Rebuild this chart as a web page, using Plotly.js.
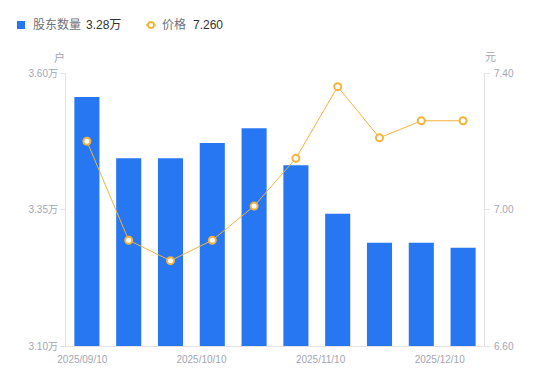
<!DOCTYPE html>
<html>
<head>
<meta charset="utf-8">
<script src="https://cdn.plot.ly/plotly-3.0.1.min.js"></script>
<style>
html,body{margin:0;padding:0;background:#fff;}
#chart{width:550px;height:381px;}
</style>
</head>
<body>
<div id="chart"></div>
<script>
// ---- data ----
var dates = ['2025/09/10','2025/09/20','2025/09/30','2025/10/10','2025/10/20','2025/10/31','2025/11/10','2025/11/20','2025/11/30','2025/12/10'];
var holders = [3.556, 3.444, 3.444, 3.472, 3.499, 3.431, 3.342, 3.289, 3.289, 3.28]; // 万户
var prices = [7.20, 6.91, 6.85, 6.91, 7.01, 7.15, 7.36, 7.21, 7.26, 7.26];         // 元
var xTickLabels = ['2025/09/10','2025/10/10','2025/11/10','2025/12/10'];
var yLeftTicks = [3.10, 3.35, 3.60];
var yRightTicks = [6.60, 7.00, 7.40];
var legendNames = ['股东数量', '价格'];

// ---- layout constants ----
var W = 550, H = 381, ML = 66, MR = 66, MT = 73, MB = 35;
var PW = W - ML - MR, PH = H - MT - MB;
function px(x){ return (x - ML) / PW; }
function py(y){ return (H - MB - y) / PH; }

var blue = '#2777f3', orange = '#f6b33b', gray = '#a3a6b4', axisGray = '#e3e3e6';
var idx = dates.map(function(_, i){ return i; });

var bars = {
  type: 'bar', x: idx, y: holders, width: 0.6,
  marker: {color: blue, line: {width: 0}},
  hoverinfo: 'skip', showlegend: false, yaxis: 'y'
};
var line = {
  type: 'scatter', mode: 'lines+markers', x: idx, y: prices, yaxis: 'y2',
  line: {color: orange, width: 1},
  marker: {size: 7, color: '#ffffff', line: {color: orange, width: 2}},
  hoverinfo: 'skip', showlegend: false, cliponaxis: false
};

var tickStart = -0.11, tickStep = 2.85;
var xTickVals = xTickLabels.map(function(_, i){ return tickStart + i * tickStep; });

var lastHolder = holders[holders.length - 1].toFixed(2) + '万';
var lastPrice = prices[prices.length - 1].toFixed(3);

var fnt = 'Liberation Sans, Arial, Noto Sans CJK SC, sans-serif';

var layout = {
  width: W, height: H,
  margin: {l: ML, r: MR, t: MT, b: MB, pad: 0},
  paper_bgcolor: '#fff', plot_bgcolor: '#fff',
  font: {family: fnt, size: 10, color: gray},
  bargap: 0.4,
  xaxis: {
    type: 'linear', range: [-0.5, 9.5], fixedrange: true,
    showgrid: false, zeroline: false,
    showline: true, linecolor: axisGray, linewidth: 1,
    ticks: '', tickvals: xTickVals, ticktext: xTickLabels,
    ticklabelstandoff: 4,
    tickfont: {size: 10, color: gray}
  },
  yaxis: {
    range: [yLeftTicks[0], yLeftTicks[yLeftTicks.length - 1]],
    tickvals: yLeftTicks,
    ticktext: yLeftTicks.map(function(v){ return v.toFixed(2) + '万'; }),
    showgrid: false, zeroline: false,
    showline: true, linecolor: axisGray, linewidth: 1,
    ticks: 'outside', ticklen: 5, tickcolor: axisGray, tickwidth: 1,
    tickfont: {size: 10, color: gray}
  },
  yaxis2: {
    overlaying: 'y', side: 'right',
    range: [yRightTicks[0], yRightTicks[yRightTicks.length - 1]],
    tickvals: yRightTicks,
    ticktext: yRightTicks.map(function(v){ return v.toFixed(2); }),
    showgrid: false, zeroline: false,
    showline: true, linecolor: axisGray, linewidth: 1,
    ticks: 'outside', ticklen: 5, tickcolor: axisGray, tickwidth: 1,
    ticklabelstandoff: 2,
    tickfont: {size: 10, color: gray}
  },
  shapes: [
    {type: 'rect', xref: 'paper', yref: 'paper', x0: px(17), x1: px(25), y0: py(29), y1: py(21),
     fillcolor: blue, line: {width: 0}},
    {type: 'line', xref: 'paper', yref: 'paper', x0: px(146), x1: px(156), y0: py(25), y1: py(25),
     line: {color: orange, width: 1.5}},
    {type: 'circle', xref: 'paper', yref: 'paper', x0: px(148), x1: px(154), y0: py(28), y1: py(22),
     fillcolor: '#fff', line: {color: orange, width: 1.8}}
  ],
  annotations: [
    {xref: 'paper', yref: 'paper', x: px(31), y: py(25), xanchor: 'left', yanchor: 'middle',
     text: legendNames[0], showarrow: false, font: {size: 12, color: '#6e717d', family: fnt}},
    {xref: 'paper', yref: 'paper', x: px(84), y: py(25), xanchor: 'left', yanchor: 'middle',
     text: lastHolder, showarrow: false, font: {size: 12, color: '#333333', family: fnt}},
    {xref: 'paper', yref: 'paper', x: px(160), y: py(25), xanchor: 'left', yanchor: 'middle',
     text: legendNames[1], showarrow: false, font: {size: 12, color: '#6e717d', family: fnt}},
    {xref: 'paper', yref: 'paper', x: px(191), y: py(25), xanchor: 'left', yanchor: 'middle',
     text: lastPrice, showarrow: false, font: {size: 12, color: '#333333', family: fnt}},
    {xref: 'paper', yref: 'paper', x: px(59), y: py(57), xanchor: 'center', yanchor: 'middle',
     text: '户', showarrow: false, font: {size: 11, color: gray, family: fnt}},
    {xref: 'paper', yref: 'paper', x: px(490), y: py(57), xanchor: 'center', yanchor: 'middle',
     text: '元', showarrow: false, font: {size: 11, color: gray, family: fnt}}
  ]
};

Plotly.newPlot('chart', [bars, line], layout, {displayModeBar: false, staticPlot: true});
</script>
</body>
</html>
